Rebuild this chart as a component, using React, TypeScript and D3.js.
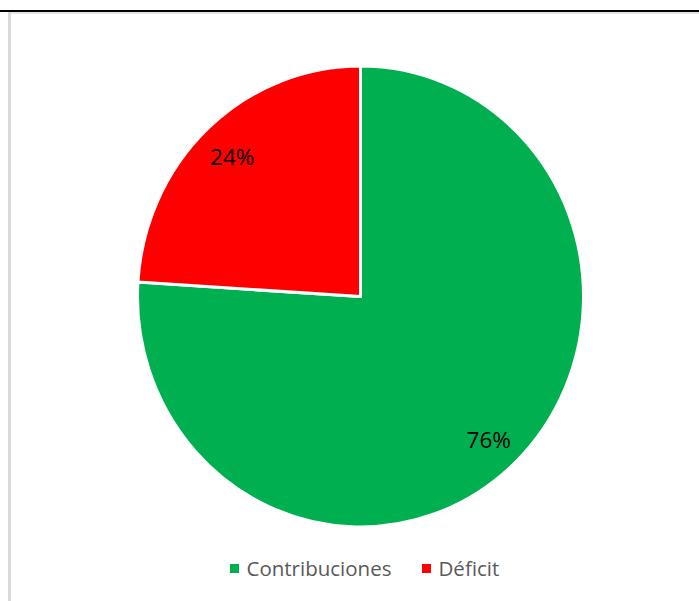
import React from "react";
import * as d3 from "d3";

const categories = ["Contribuciones", "Déficit"];
const values = [76, 24];
const colors = ["#00B050", "#FF0000"];

const W = 699;
const H = 601;
const cx = 360.5;
const cy = 296.5;
const rx = 223;
const ry = 230.5;

export default function App() {
  const pie = d3.pie<number>().sort(null).startAngle(0).endAngle(2 * Math.PI);
  const arcs = pie(values);
  const arc = d3.arc<d3.PieArcDatum<number>>().innerRadius(0).outerRadius(rx);
  const total = d3.sum(values);
  const fmt = (v: number) => `${Math.round((v / total) * 100)}%`;
  const labelK = 0.84;

  const legendX = [230, 422];
  const legendY = 564;

  return (
    <div style={{ position: "absolute", left: 0, top: 0 }}>
      <svg width={W} height={H} style={{ display: "block", background: "#fff" }}>
        <rect x={0} y={0} width={W} height={H} fill="#fff" />
        <line x1={0} x2={W} y1={11} y2={11} stroke="#000" strokeWidth={2} />
        <line x1={8} x2={W} y1={13} y2={13} stroke="#e4e4e4" strokeWidth={2} />
        <line x1={9.5} x2={9.5} y1={12} y2={H} stroke="#d9d9d9" strokeWidth={3} />
        <g transform={`translate(${cx},${cy}) scale(1,${ry / rx})`}>
          {arcs.map((a, i) => (
            <path
              key={categories[i]}
              d={arc(a) || ""}
              fill={colors[i]}
              stroke="#fff"
              strokeWidth={3}
              strokeLinejoin="round"
            />
          ))}
        </g>
        {arcs.map((a, i) => {
          const mid = (a.startAngle + a.endAngle) / 2;
          const x = cx + Math.sin(mid) * rx * labelK;
          const y = cy - Math.cos(mid) * ry * labelK;
          return (
            <text
              key={"l" + i}
              x={x}
              y={y + 2}
              dy="0.35em"
              textAnchor="middle"
              fontFamily="'Open Sans', sans-serif"
              fontSize={22.5}
              fill="#000"
            >
              {fmt(a.data)}
            </text>
          );
        })}
        {categories.map((c, i) => (
          <g key={"lg" + i} transform={`translate(${legendX[i]},${legendY})`}>
            <rect x={0} y={0} width={9} height={9} fill={colors[i]} />
            <text
              x={16.5}
              y={12}
              fontFamily="'Open Sans', sans-serif"
              fontSize={20.5}
              fill="#595959"
            >
              {c}
            </text>
          </g>
        ))}
      </svg>
    </div>
  );
}
